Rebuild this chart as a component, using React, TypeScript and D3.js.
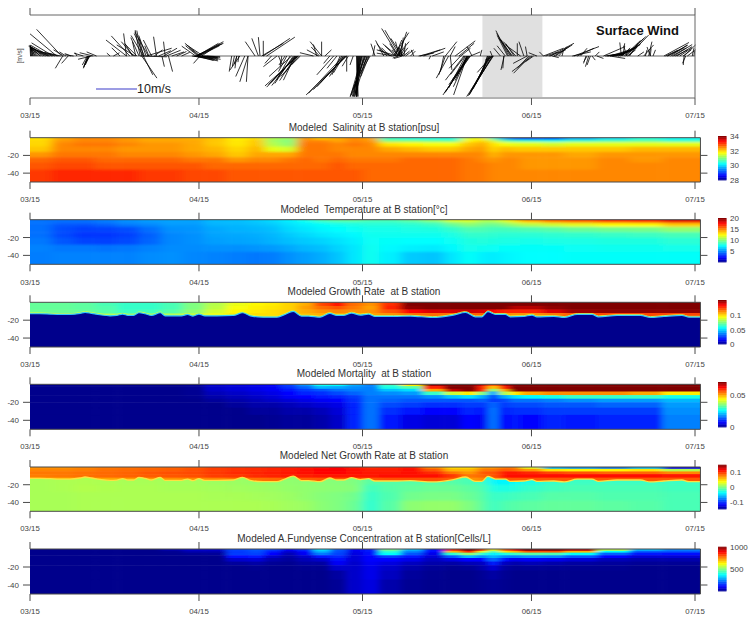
import React from "react";
import * as d3 from "d3";

const monthLabels = ["03/15", "04/15", "05/15", "06/15", "07/15"];
const monthDays = [0, 31, 61, 92, 122];
const dayEdges = [0,4,8,12,16,20,24,28,32,36,40,43,46,49,52,55,58,61,64,68,72,76,79,82,84,86,88,90,94,98,104,110,116,123];

const salinityDepths = [0,2,5,10,16,22,28,36,50];
const salinity = [
[31.9,32.3,32.5,32.5,32.4,32.3,32.3,32.2,32.1,31.8,31.9,31.3,31.2,32.4,32,32.3,32.5,32.3,30.5,30.3,30.3,30.3,31.5,31.8,30.5,29.5,28.8,28.7,28.8,29.6,30,30.4,30.2],
[32,32.4,32.5,32.5,32.4,32.3,32.3,32.3,32.1,31.9,32.1,31.2,31,32.5,32.5,32.3,32.5,32.4,31,31,30.9,30.8,31.8,32,31.5,30.8,30.6,30.5,30.4,30.6,30.7,30.8,30.6],
[32,32.5,32.6,32.6,32.5,32.4,32.4,32.3,32.1,31.9,32.1,31.3,31.1,32.6,32.6,32.5,32.6,32.5,31.9,31.8,31.7,31.7,32.1,32.3,31.9,31.7,31.6,31.6,31.5,31.6,31.6,31.6,31.6],
[32.1,32.5,32.5,32.5,32.4,32.4,32.4,32.3,32.2,32,32.2,31.6,31.5,32.6,32.6,32.5,32.5,32.5,32.3,32.2,32.1,32.1,32.3,32.4,32,32.2,32.1,32.1,32.1,32.1,32.1,32.2,32.2],
[32.4,32.6,32.6,32.6,32.5,32.5,32.5,32.4,32.3,32.1,32.3,32.3,32.3,32.6,32.6,32.6,32.5,32.5,32.5,32.5,32.5,32.5,32.5,32.5,32.2,32.4,32.4,32.4,32.4,32.3,32.4,32.4,32.4],
[32.7,32.8,32.8,32.7,32.7,32.7,32.7,32.6,32.6,32.4,32.5,32.5,32.6,32.7,32.6,32.7,32.6,32.6,32.6,32.7,32.7,32.7,32.6,32.5,32.4,32.5,32.5,32.4,32.4,32.4,32.5,32.4,32.5],
[32.8,32.9,32.9,32.8,32.8,32.8,32.8,32.8,32.7,32.7,32.7,32.7,32.7,32.7,32.7,32.8,32.7,32.7,32.7,32.7,32.7,32.7,32.6,32.6,32.5,32.5,32.5,32.4,32.4,32.4,32.5,32.5,32.5],
[33,33.1,33.1,33.1,33.1,33,33,32.9,32.9,32.8,32.8,32.8,32.8,32.8,32.8,32.8,32.8,32.7,32.7,32.7,32.7,32.7,32.6,32.6,32.5,32.5,32.5,32.5,32.5,32.5,32.5,32.5,32.5],
];

const temperatureDepths = [0,2,4,8,14,20,28,36,50];
const temperature = [
[4.6,4.5,4.5,4.8,5.2,5.5,5.6,5.6,6.1,6.2,6.5,6.8,7.3,8,9,9.4,9.5,9,9,9.5,10.5,12,12,11,11,12,13.5,15,16,16.5,17.5,17.5,18.5],
[4.6,4.4,4.4,4.7,5.1,5.3,5.5,5.5,6,6.1,6.3,6.6,7,7.5,8,8.5,8.5,8.5,8.5,8.8,9.2,10.5,11,10.5,10.5,11,12,13,14,14.5,15,15.5,16.5],
[4.5,4,3.9,4.2,4.7,5,5.4,5.4,5.9,6,6.2,6.4,6.9,7.2,7.6,7.8,8,8.2,8.2,8.3,8.6,9.5,10.2,9.8,9.5,10,10.5,11,11.5,12,12.5,12.5,13.5],
[4.5,3.8,3.5,3.6,3.8,4.5,5.2,5.3,5.7,5.9,6,6.2,6.7,7,7.3,7.5,7.7,7.9,7.9,8,8.1,8.5,9,9,8.8,8.8,8.9,9,9.2,9.5,9.7,9.8,10.3],
[4.5,3.7,3.3,3.3,3.5,4.2,5,5.2,5.6,5.7,5.8,6,6.4,6.7,7,7.2,7.4,7.8,7.8,7.8,7.8,8,8.5,8.5,8.4,8.3,8.3,8.3,8.4,8.5,8.6,8.7,8.9],
[4.7,4,3.6,3.5,3.7,4.3,5,5.2,5.5,5.6,5.7,5.9,6.2,6.4,6.6,6.9,7.2,7.7,7.6,7.5,7.5,7.7,8.1,8.2,8.1,8,8,7.9,8,8,8.1,8.1,8.3],
[4.9,4.7,4.7,4.6,4.7,4.9,5.1,5.1,5.2,5.2,5.3,5.4,5.7,6,6.2,6.6,7,7.8,7.4,7.2,7.1,7.4,7.9,7.8,7.7,7.6,7.6,7.6,7.6,7.7,7.8,7.8,7.9],
[4.8,4.9,4.9,4.9,4.9,5.1,5.2,5,4.9,4.8,4.7,4.8,5.2,5.5,5.8,6.3,7,7.8,7.2,6.4,6.3,7,7.6,7.2,7.1,7.3,7.4,7.5,7.5,7.6,7.6,7.6,7.6],
];

const growthDepths = [0,4,8,12,20];
const growth = [
[.072,.072,.071,.068,.065,.065,.068,.076,.084,.092,.096,.098,.102,.108,.124,.134,.118,.112,.128,.152,.152,.152,.152,.152,.152,.152,.152,.152,.152,.152,.152,.152,.152],
[.072,.072,.071,.069,.065,.065,.068,.076,.085,.094,.097,.099,.102,.11,.118,.122,.116,.11,.13,.15,.152,.152,.152,.152,.152,.152,.145,.145,.15,.152,.152,.152,.152],
[.073,.073,.072,.07,.066,.067,.07,.078,.088,.096,.098,.1,.103,.108,.112,.114,.112,.112,.122,.135,.14,.14,.142,.14,.135,.13,.13,.13,.14,.148,.15,.15,.15],
[.078,.078,.078,.076,.073,.075,.078,.084,.092,.098,.1,.1,.104,.106,.108,.108,.108,.11,.112,.118,.118,.118,.12,.12,.116,.114,.112,.112,.116,.122,.124,.124,.124],
];

const mortalityDepths = [0,2,5,8,12,16,20,26,34,50];
const mortality = [
[0,0,0,0,0,0,0,.0005,.004,.005,.006,.007,.012,.018,.027,.026,.02,.017,.03,.045,.068,.07,.07,.065,.055,.066,.07,.07,.07,.07,.07,.07,.07],
[0,0,0,0,0,0,0,.0005,.004,.005,.006,.007,.011,.015,.021,.02,.018,.017,.028,.032,.06,.07,.07,.06,.048,.06,.07,.07,.07,.07,.07,.07,.07],
[0,0,0,0,0,0,0,.0005,.004,.005,.006,.007,.009,.012,.014,.016,.017,.017,.022,.024,.05,.066,.07,.06,.035,.05,.07,.07,.07,.07,.07,.07,.07],
[0,0,0,0,0,0,0,.0005,.003,.004,.005,.006,.008,.01,.011,.013,.015,.017,.018,.019,.03,.04,.045,.035,.02,.038,.045,.05,.052,.052,.052,.05,.045],
[0,0,0,0,0,0,0,.0003,.002,.003,.004,.005,.007,.008,.009,.01,.012,.016,.016,.016,.018,.022,.024,.02,.013,.02,.024,.026,.028,.03,.03,.03,.028],
[0,0,0,0,0,0,0,0,.001,.002,.003,.004,.005,.006,.007,.008,.011,.016,.015,.014,.014,.014,.014,.015,.012,.013,.016,.016,.017,.018,.019,.019,.021],
[0,0,0,0,0,0,0,0,0,.001,.002,.002,.003,.004,.005,.006,.01,.016,.013,.012,.011,.011,.012,.012,.015,.012,.013,.013,.014,.014,.015,.015,.019],
[0,0,0,0,0,0,0,0,0,0,.001,.001,.002,.002,.003,.005,.01,.016,.011,.009,.008,.008,.01,.009,.016,.01,.011,.011,.012,.012,.012,.012,.018],
[0,0,0,0,0,0,0,0,0,0,0,.0005,.001,.001,.002,.004,.01,.016,.009,.006,.005,.005,.008,.007,.016,.008,.009,.008,.01,.009,.01,.01,.017],
];

const netUpperDepths = [0,2,5,8,12,20];
const netUpper = [
[.072,.072,.076,.08,.082,.084,.086,.09,.098,.102,.104,.106,.108,.11,.114,.116,.11,.104,.106,.11,.076,.05,.05,.07,.07,.08,.08,.03,-.06,-.07,-.08,-.06,-.12],
[.076,.076,.078,.082,.084,.086,.088,.092,.098,.102,.104,.106,.108,.112,.116,.118,.112,.108,.108,.112,.09,.06,.06,.08,.08,.09,.085,.07,.045,.04,.04,.045,.015],
[.08,.08,.082,.084,.086,.09,.092,.094,.1,.104,.106,.108,.11,.112,.116,.116,.112,.11,.11,.112,.104,.08,.07,.09,.09,.11,.11,.105,.095,.09,.085,.085,.075],
[.078,.08,.082,.084,.086,.088,.09,.092,.098,.1,.104,.106,.108,.108,.11,.11,.11,.11,.112,.112,.112,.1,.08,.085,.09,.112,.114,.114,.112,.112,.112,.112,.11],
[.06,.062,.064,.066,.068,.07,.072,.074,.076,.08,.082,.084,.086,.088,.09,.09,.09,.09,.092,.092,.092,.088,.07,.075,.08,.09,.09,.09,.09,.09,.09,.09,.09],
];
const netLowerDepths = [8,20,28,38,50];
const netLower = [
[.012,.013,.014,.013,.012,.012,.011,.011,.009,.008,.006,.005,.005,.004,.003,.002,0,-.012,-.012,-.012,-.012,-.012,-.016,-.02,-.04,-.04,-.036,-.03,-.022,-.02,-.02,-.02,-.02],
[.012,.013,.015,.014,.013,.013,.012,.012,.011,.01,.009,.008,.006,.005,.004,.003,.002,-.018,-.012,-.008,-.006,-.006,-.01,-.014,-.03,-.03,-.028,-.022,-.018,-.016,-.016,-.016,-.018],
[.012,.012,.013,.013,.013,.013,.013,.013,.012,.012,.011,.01,.008,.005,.002,0,-.004,-.022,-.014,-.004,-.002,-.002,-.006,-.012,-.022,-.02,-.018,-.016,-.012,-.012,-.014,-.014,-.016],
[.012,.012,.013,.013,.013,.013,.013,.013,.013,.013,.013,.012,.01,.008,.003,0,-.006,-.024,-.012,.004,.006,.006,0,-.01,-.02,-.014,-.012,-.01,-.008,-.008,-.01,-.012,-.016],
];

const fundyDepths = [0,2,4,7,10,14,18,24,34,50];
const fundy = [
[0,0,0,0,0,0,30,60,60,180,200,170,100,150,340,200,100,130,480,300,130,850,1000,850,600,800,900,1000,1000,950,560,300,240],
[0,0,0,0,0,0,8,35,35,170,190,140,70,120,300,190,90,130,420,250,120,700,850,600,450,650,700,800,800,700,380,210,200],
[0,0,0,0,0,0,3,10,12,170,180,110,40,100,240,180,80,120,380,200,90,420,520,420,360,400,430,460,450,380,210,130,120],
[0,0,0,0,0,0,0,0,0,120,130,60,25,60,130,150,70,110,170,130,70,200,300,250,300,250,240,260,250,200,110,70,70],
[0,0,0,0,0,0,0,0,0,60,70,30,15,40,60,120,70,110,110,90,50,80,110,110,220,120,90,100,90,70,40,30,30],
[0,0,0,0,0,0,0,0,0,15,25,10,5,20,20,100,60,100,80,50,30,25,40,50,140,50,30,40,30,20,15,10,10],
[0,0,0,0,0,0,0,0,0,0,5,0,0,5,5,60,60,90,60,30,12,5,10,30,70,20,8,10,8,5,5,0,0],
[0,0,0,0,0,0,0,0,0,0,0,0,0,0,0,20,60,90,50,15,5,0,0,10,25,8,0,0,0,0,0,0,0],
[0,0,0,0,0,0,0,0,0,0,0,0,0,0,0,10,60,80,30,8,2,0,0,5,10,4,0,0,0,0,0,0,0],
];

const thermoDays = [0,1.8,3.7,5.5,7.3,9.2,10.1,11.3,12.8,14.7,15.9,17,18,19,20,21.1,22.3,23.9,24.8,26.3,27.8,28.9,29.9,31,32.1,34.3,37.3,39,40.4,42.8,45.3,46.5,48.3,49.8,51.1,53.2,55,56.3,57.5,59,60.6,62.1,63.3,66.7,69.8,73.8,77.7,79.9,81.7,82.9,84,85.4,87.2,88.1,90.6,92.1,93,96.1,98,100.4,103.1,104.3,107.7,112,113.8,116.3,119.6,120.9,123];
const thermoDepths = [12.8,12.8,13.2,13.6,13.6,12.4,11.3,12.4,13.9,15.1,14.7,13.2,14.7,14.7,11.7,12.8,14.7,11.7,15.1,15.1,15.1,13.6,15.4,13.2,15.1,15.1,14.7,11.7,15.1,16.6,16.6,14.3,10.2,15.4,15.4,16.6,12.4,14.7,14.7,12.1,14.3,13.2,15.8,15.8,15.4,16.9,14.3,11.3,16.2,16.2,10.5,13.6,13.6,16.2,15.8,14.3,16.2,15.8,16.9,13.6,13.6,16.2,14.7,14.7,16.9,15.8,14.7,16.6,16.6];

// [day, east m/s, north m/s]
const windSticks: number[][] = [
[.2,-.2,2.6],[.6,-.8,2.7],[1,-1.4,2.5],[1.5,-2,2.5],[2,-3,2.4],[2.6,-3.4,2.3],[3.2,-4,2.2],[3.6,-4.6,2.6],[4.2,-5.2,3.2],[4.9,-6.5,5.4],[5.8,-6.1,6.5],[6.2,-2.5,1.5],[6.6,-1.6,1],[6,-1.8,-3],[7,-1.6,-1.8],[7.5,-1.5,.6],[8,-2,.3],
[.1,-.1,2],[.3,-.3,2.2],[.5,-.5,2.3],[.8,-.8,2.2],[1.2,-1.2,2.2],[1.8,-1.8,2],[2.3,-2.3,1.9],[2.9,-3,1.8],[3.4,-3.4,1.6],[4,-3.6,1.4],[4.6,-3.6,1.1],[5.2,-3.4,.9],[5.6,-3,.7],
[8.6,-.4,.8],[9.8,-2.3,.7],[10.7,-1.2,-3],[10.5,-1.2,-2.2],[11,-1.2,-1.8],[11.6,-3.3,.8],[12.2,-2.4,1],[11.3,-3.3,-.8],[10.6,-1,-2.6],[10.8,-1.3,-2.8],[10.9,-1,-2.2],
[14.7,-.8,.7],[15.3,1.5,.8],[16.5,-2,2],[17.7,-5,3.9],[18.3,-4.5,4.9],[17.7,-.7,5.5],[19.3,-4.5,2.7],[20.2,-1.2,6.3],[20.5,-1.2,6.2],[20.8,-1,4.3],[21.7,-3.3,5.9],[22.3,-2,3.9],[23.2,-.7,4.7],[24.8,-.4,3.5],[24.5,3.3,1.9],[21.4,6.1,1.9],[20.2,6.5,-.2],[20.5,3.7,-5.4],[20.8,2.3,-4.6],[25.4,1,-3.8],[24.2,.6,-2.6],[26.9,2.4,1.1],[27.8,2,.9],
[19,-3,3.5],[19.6,-3,3],[20,-2,4.5],[20.8,-3,5],[21,-2.5,5.5],[21.3,-1.8,5],[18.8,-1.8,3],[19.4,-.8,3.5],[21.8,-1,2.5],[22.8,2,1.5],[23.6,3,1.3],[25,3.5,1.4],[26,3,1],
[31.2,-3.7,3.1],[31.8,-4.1,2.7],[30.6,6.5,3.5],[30.3,6.9,3.1],[30.6,5.3,3.1],[31.5,2.8,1.9],[30.6,4.1,-1.1],[30.3,6.1,-.3],[31.2,-1.6,-1.8],[32.4,3.3,-.2],[29.7,5,-.6],[30,6,-1.2],[31.2,5,-.8],
[30.8,-3,2.5],[31,-2.4,2],[30.4,-3.4,2.4],[30.9,4,-.9],[31.3,4.2,-.9],[31.5,4,-.5],[31.8,3.5,-.4],[32,2.5,-.2],[30.7,5.5,2.9],[30.9,5.8,3],[31,5,2.5],
[37,-.6,-3.8],[37.9,-.4,-3],[38.5,-2.4,-3.4],[40,-2,-6.3],[40,-.4,-6.3],[39.4,-2.2,-5],[41.3,-2.4,3.5],[41.9,-1.6,4.3],[42.2,-.4,4.6],[42.8,0,3.7],[43.4,6.9,4.6],[42.8,6.5,4.3],[42.5,5.3,3.1],[37.5,-.5,-2.5],[38,-.8,-2],[38.3,-.2,-1.5],
[49.2,-8.1,-7.3],[48.9,-7.3,-7.6],[48.3,-4.5,-6.7],[47.7,-3.3,-5.9],[48.6,-2.8,-5.9],[47.1,-2,-3.8],[45.3,-3.3,-2.6],[44.3,-1.6,-1.8],[46.2,-.4,-2.6],[48,-5.5,-5],[46.8,-1.5,-2.2],[45.6,.8,-2],
[49,-7,-7],[48.7,-6,-6.5],[48.5,-5.5,-7.2],[48.8,-4,-6],[49.4,-4.5,-5],[49.1,-3,-4],[49.6,-2,-2],
[53.5,-2.8,3.5],[53.5,0,3.5],[52.9,-2.8,1.5],[52,-3.3,.8],[54.1,1.6,1.5],[52.6,-.8,2.8],[53.1,-2,2.2],
[58.1,-9.9,-9.5],[57.5,-8.5,-9.1],[55.7,-4.1,-4.6],[56.3,-2.4,-3],[56.9,-2,-4.6],[57.5,-2.4,-4.1],[58.1,0,-3.8],[59.3,-.8,-2.2],[57.8,-6,-6.5],[55,-1.5,-1.8],[58,-8,-8.2],[57.9,-7,-7.5],[57.2,-3,-5],[58.4,-1.5,-2.5],
[61.5,-3.7,-9.9],[60.9,-2.8,-9.9],[60.6,-1.6,-9.9],[60.2,-.4,-9.9],[59.9,.4,-9.9],[61.8,-2.8,-9.1],[62.4,-2.4,-4.2],[62.1,-1.2,-2.2],[61.2,-2.2,-9.9],[60.7,-1,-9.9],[60.4,-.8,-9.5],[62.9,.5,2.6],[63.3,-1,3],
[61,-2.5,-9.9],[60.8,-2,-9.9],[60.5,-1.2,-9.9],[60.3,-.6,-9.9],[60,0,-9.9],[60.1,-.2,-9.9],[61.4,-3.2,-9.5],[61.6,-3,-8],[61.9,-2.6,-6.5],[62.2,-2,-5],
[67.6,-4.1,6.7],[67.9,-3.7,6.3],[67.6,2,5.9],[67.3,-4.9,1.5],[66.7,-4.1,.7],[68.3,-2.8,4.3],[68.6,.4,3.1],[67,1.6,3.9],[66.7,3.7,5.7],[68.9,2,1.5],[65.5,-2.5,3],[64.9,-2,3.8],[67.3,3,3.5],[67,-3,3],[68.1,.5,4.5],[69.8,1.2,1.2],[70.4,-.6,1.5],[68.3,-2,-.6],[67.6,-1.4,-.5],
[67.4,-3,2.5],[67.5,-2,3],[67.8,-1,3.5],[67.7,1,3.5],[68,-.5,2],[68.2,1.5,2],[68.4,-1,2.2],[68,1,2],[67.9,-2,1.5],[68.5,1.5,1.2],[66.3,-3,1.5],[66,-2,2],
[72.2,5.3,1.9],[71.6,4.9,1.5],[71.3,3.7,.7],[73.5,-.4,-.8],[76.2,2.8,3.5],[77.1,1.2,2.3],[73.8,2.8,1],
[76.8,-3,-5.4],[76.2,-1.6,-4.6],[75.9,-.8,-3.8],[77.1,.4,-3.4],[80.8,-6.7,-9.5],[80.5,-5.7,-8.8],[80.2,-3.3,-9.5],[79.9,-4.1,-7.8],[79.6,-4.5,-5.9],[80.2,-2.4,-4.6],[79,-2.8,-3],[78,4.9,3.7],[78.7,3.7,3.1],[79,2.4,1.9],[80.8,2.4,1],[81.1,-1.2,2.3],
[80.6,-5,-7],[80.4,-4,-6],[80.3,-3.5,-7.5],[80.7,-6.2,-9],[80.1,-2.8,-6],[79.8,-3.5,-4.5],
[85,-6.5,-9.9],[84.4,-4.9,-9.1],[84.2,-3.3,-7],[83.9,-1,-3.8],[85,-2,-1],[84.8,-5.6,-9.5],[84.9,-6,-9.7],[84.6,-5,-8.5],[84.3,-4,-8],[84,-2,-5],[84.7,-3.5,-4],
[87.8,-3.1,6.2],[88.1,-3.3,5.5],[88.5,-3.3,4.3],[89.1,-3,3.5],[89.4,0,3.1],[90.6,-1.2,3.5],[91.2,-.4,2.3],[90,-3.7,2.7],[86.3,-1.6,1.9],[82.6,.4,1.5],[87,-.8,-3.4],[86.9,-.2,-3],[92.1,-4.9,-3.8],[91.8,-4.1,-4.2],[91.5,-2.8,-3],[91.2,-3.4,-1.8],[92.4,-2,-1.4],[93,-2,.8],[94.2,-1,1],[87.2,-2,2.5],[84.8,-.5,1.2],[87.6,-2.5,5],[88.3,-2.5,4],[88.8,-2,3],
[94.2,4.9,1.9],[95.5,5.7,3.1],[96.1,4.5,2.7],[95.2,4.1,1.5],[97,2,2.3],[97.6,.4,1.5],[95.8,1.6,-.4],[96.4,3.5,2.4],[94.6,3,1],
[99.8,6.1,2.3],[100.4,4.1,1.9],[101,1.6,1.9],[99.5,4.5,1],[102.5,-.8,-2.6],[102.8,-.8,-2.2],[102.2,-.8,-1.4],[103.1,.8,-1],[104,1.6,-.6],[102,-.6,-1.8],[103.7,1,1],
[105.2,5.3,2.3],[106.4,4.9,1.5],[107.6,5.7,2.7],[108.5,-.4,3.3],[108.8,.4,3.1],[109.8,4.9,5.1],[109.2,4.5,4.3],[110,2,3.1],[106.4,3.7,-.6],[105.8,4.5,.5],[107,5,1.6],[109.5,-.8,2.5],[107.9,4.5,2],
[108,4.5,2.2],[108.3,5,3],[109,4,3.8],[109.4,4.8,4.8],[106.8,3.5,1],[107.3,4,1.2],[106,3,.6],[105.5,2.5,.4],[109.6,2,1.5],[108.6,2,2],
[113.5,.8,3.5],[112.6,2.4,2.7],[112.9,.4,1.5],[113.8,.2,1.9],[114.3,.6,1.5],[111.5,1.5,1],[113.8,-.8,2.2],
[116.3,6.1,3.3],[117.5,4.1,2.7],[118.7,3.7,2.3],[120,2.8,2.7],[120.6,2,1.5],[121.5,.4,1.9],[120,-.2,-2.2],[120.3,-.8,-1.8],[116.9,5,2.6],[118.1,4.5,2.8],[121.8,.2,1.2],
[117,4,2],[117.8,3.5,2],[118.4,3,1.5],[119.2,3,2],[119.8,2,1.5],[116.6,3,1.4],
];
const shadedDays = [83, 94];

const jetStops = [0, 0.11, 0.375, 0.625, 0.89, 1];
const jetColors = ["#00008c", "#0000ff", "#00ffff", "#ffff00", "#ff0000", "#800000"];
const jet = d3.scaleLinear<string>().domain(jetStops).range(jetColors).clamp(true);

const FONT = "'Liberation Sans', Arial, sans-serif";
const GREY = "#4a4a4a";
const x = d3.scaleLinear().domain([0, 122]).range([30, 695]);
const xRight = x(123);

type Cfg = {
  title: string; top: number; bottom: number; labelY: number; titleY: number;
  domain: [number, number]; barTop: number; barBottom: number; barTicks: number[];
};

function Field({ id, values, depths, color, y }: any) {
  const cells: any[] = [];
  values.forEach((row: number[], r: number) => {
    row.forEach((v: number, c: number) => {
      const x0 = c === 0 ? x(dayEdges[0]) - 40 : x(dayEdges[c]);
      const x1 = c === row.length - 1 ? xRight + 40 : x(dayEdges[c + 1]);
      const y0 = r === 0 ? y(depths[0]) - 12 : y(depths[r]);
      const y1 = r === values.length - 1 ? y(depths[r + 1]) + 12 : y(depths[r + 1]);
      cells.push(<rect key={r + "-" + c} x={x0} y={y0} width={x1 - x0 + 0.5} height={y1 - y0 + 0.5} fill={color(v)} />);
    });
  });
  return <g filter={`url(#${id})`}>{cells}</g>;
}

function Panel({ cfg, children, id }: { cfg: Cfg; children: (y: any) => any; id: string }) {
  const y = d3.scaleLinear().domain([0, 50]).range([cfg.top, cfg.bottom]);
  const bar = d3.scaleLinear().domain(cfg.domain).range([cfg.barBottom, cfg.barTop]);
  const steps = d3.range(0, 64);
  const h = (cfg.barBottom - cfg.barTop) / 64;
  return (
    <g>
      <text x={364} y={cfg.titleY} textAnchor="middle" fontSize={10} fill="#333" fontFamily={FONT} xmlSpace="preserve">{cfg.title}</text>
      <clipPath id={id + "c"}><rect x={30} y={cfg.top} width={xRight - 30} height={cfg.bottom - cfg.top} /></clipPath>
      <g clipPath={`url(#${id}c)`}>{children(y)}</g>
      <line x1={30} x2={xRight} y1={cfg.top} y2={cfg.top} stroke={GREY} />
      <line x1={30} x2={xRight} y1={cfg.bottom} y2={cfg.bottom} stroke={GREY} />
      <line x1={xRight} x2={xRight} y1={cfg.top} y2={cfg.bottom} stroke={GREY} />
      {monthDays.map((d, i) => (
        <g key={i}>
          <line x1={x(d)} x2={x(d)} y1={cfg.top - 7} y2={cfg.top} stroke={GREY} />
          <line x1={x(d)} x2={x(d)} y1={cfg.bottom} y2={cfg.bottom + 7} stroke={GREY} />
          <text x={x(d)} y={cfg.labelY} textAnchor="middle" fontSize={7.8} fill="#444" fontFamily={FONT}>{monthLabels[i]}</text>
        </g>
      ))}
      {[20, 40].map((d) => (
        <g key={d}>
          <line x1={23} x2={30} y1={y(d)} y2={y(d)} stroke={GREY} />
          <line x1={xRight} x2={xRight + 7} y1={y(d)} y2={y(d)} stroke={GREY} />
          <text x={19} y={y(d) + 3} textAnchor="end" fontSize={8} fill="#444" fontFamily={FONT}>{"-" + d}</text>
        </g>
      ))}
      {steps.map((s) => {
        const t = (s + 0.5) / 64;
        return <rect key={s} x={718} width={8.5} y={cfg.barBottom - (s + 1) * h} height={h + 0.4} fill={jet(t)} />;
      })}
      {cfg.barTicks.map((v, i) => (
        <text key={i} x={730} y={bar(v) + 3} fontSize={8} fill="#444" fontFamily={FONT}>{String(v)}</text>
      ))}
    </g>
  );
}

export default function App() {
  const speed = d3.scaleLinear().domain([0, 10]).range([0, 41]);
  const windY = 56;
  const mk = (domain: [number, number]) => {
    const s = d3.scaleLinear().domain(domain).range([0, 1]);
    return (v: number) => jet(s(v));
  };
  const salCfg: Cfg = { title: "Modeled  Salinity at B station[psu]", top: 137.7, bottom: 182, labelY: 202, titleY: 131, domain: [28, 34], barTop: 136, barBottom: 180, barTicks: [34, 32, 30, 28] };
  const tmpCfg: Cfg = { title: "Modeled  Temperature at B station[°c]", top: 219.7, bottom: 264.3, labelY: 285, titleY: 213, domain: [0, 20], barTop: 218, barBottom: 262, barTicks: [20, 15, 10, 5] };
  const groCfg: Cfg = { title: "Modeled Growth Rate  at B station", top: 302.3, bottom: 347, labelY: 367, titleY: 295, domain: [0, 0.152], barTop: 300, barBottom: 344, barTicks: [0.1, 0.05, 0] };
  const morCfg: Cfg = { title: "Modeled Mortality  at B station", top: 384.3, bottom: 429.3, labelY: 449, titleY: 377, domain: [0, 0.07], barTop: 382, barBottom: 427, barTicks: [0.05, 0] };
  const netCfg: Cfg = { title: "Modeled Net Growth Rate at B station", top: 467, bottom: 511.3, labelY: 531, titleY: 459, domain: [-0.15, 0.15], barTop: 464.7, barBottom: 509, barTicks: [0.1, 0, -0.1] };
  const funCfg: Cfg = { title: "Modeled A.Fundyense Concentration at B station[Cells/L]", top: 549, bottom: 594, labelY: 614, titleY: 542, domain: [0, 1000], barTop: 546.7, barBottom: 591, barTicks: [1000, 500] };

  const thermoLine = (y: any) => d3.line<number>().curve(d3.curveMonotoneX).x((_, i) => x(thermoDays[i])).y((d) => y(d))(thermoDepths) as string;
  const thermoArea = (y: any) => d3.area<number>().curve(d3.curveMonotoneX).x((_, i) => x(thermoDays[i])).y0((d) => y(d)).y1(y(50) + 3)(thermoDepths) as string;

  return (
    <svg width={754} height={622} viewBox="0 0 754 622" style={{ display: "block", position: "absolute", left: 0, top: 0 }}>
      <defs>
        <filter id="soft" x="-5%" y="-30%" width="110%" height="160%"><feGaussianBlur stdDeviation="5.5 1.1" /></filter>
        <filter id="soft2" x="-5%" y="-30%" width="110%" height="160%"><feGaussianBlur stdDeviation="4 0.5" /></filter>
        <filter id="soft3" x="-5%" y="-30%" width="110%" height="160%"><feGaussianBlur stdDeviation="3.5 0.6" /></filter>
        <filter id="edge" x="-2%" y="-30%" width="104%" height="160%"><feGaussianBlur stdDeviation="0.4" /></filter>
        <filter id="ink" x="-2%" y="-5%" width="104%" height="110%"><feGaussianBlur stdDeviation="0.3" /></filter>
      </defs>
      <rect x={0} y={0} width={754} height={622} fill="#fff" />

      {/* wind */}
      <rect x={x(shadedDays[0])} y={15} width={x(shadedDays[1]) - x(shadedDays[0])} height={82} fill="#e0e0e0" />
      <line x1={30} x2={695} y1={15} y2={15} stroke="#666" />
      <line x1={30} x2={695} y1={98} y2={98} stroke="#666" />
      <line x1={30} x2={695} y1={windY} y2={windY} stroke="#666" strokeWidth={1.2} />
      <g filter="url(#ink)">
        {windSticks.map((s, i) => (
          <line key={i} x1={x(s[0])} y1={windY} x2={x(s[0]) + speed(s[1])} y2={windY - speed(s[2])} stroke="#000" strokeWidth={0.8} />
        ))}
      </g>
      {monthDays.map((d, i) => (
        <g key={i}>
          <line x1={x(d)} x2={x(d)} y1={8} y2={15} stroke="#555" />
          <line x1={x(d)} x2={x(d)} y1={98} y2={105} stroke="#555" />
          <text x={x(d)} y={118} textAnchor="middle" fontSize={7.8} fill="#444" fontFamily={FONT}>{monthLabels[i]}</text>
        </g>
      ))}
      <line x1={695} x2={695} y1={15} y2={98} stroke="#666" />
      <text transform="translate(22,56) rotate(-90)" textAnchor="middle" fontSize={7} fill="#444" fontFamily={FONT}>[m/s]</text>
      <line x1={96} x2={137} y1={89} y2={89} stroke="#3a3ac8" />
      <text x={137} y={93} fontSize={12.5} fill="#222" fontFamily={FONT}>10m/s</text>
      <text x={596} y={35} fontSize={13} fontWeight="bold" fill="#111" fontFamily={FONT}>Surface Wind</text>

      <Panel id="sal" cfg={salCfg}>{(y) => <Field id="soft" values={salinity} depths={salinityDepths} color={mk(salCfg.domain)} y={y} />}</Panel>
      <Panel id="tmp" cfg={tmpCfg}>{(y) => <Field id="soft" values={temperature} depths={temperatureDepths} color={mk(tmpCfg.domain)} y={y} />}</Panel>
      <Panel id="gro" cfg={groCfg}>{(y) => (
        <g>
          <Field id="soft2" values={growth} depths={growthDepths} color={mk(groCfg.domain)} y={y} />
          <path d={thermoArea(y)} fill={jet(0)} />
          <path d={thermoLine(y)} fill="none" stroke="#d8ff40" strokeWidth={1} transform="translate(0,-0.8)" filter="url(#edge)" />
          <path d={thermoLine(y)} fill="none" stroke="#30c8ff" strokeWidth={1.2} filter="url(#edge)" />
        </g>
      )}</Panel>
      <Panel id="mor" cfg={morCfg}>{(y) => <Field id="soft3" values={mortality} depths={mortalityDepths} color={mk(morCfg.domain)} y={y} />}</Panel>
      <Panel id="net" cfg={netCfg}>{(y) => (
        <g>
          <Field id="soft2" values={netUpper} depths={netUpperDepths} color={mk(netCfg.domain)} y={y} />
          <clipPath id="netLow"><path d={thermoArea(y)} /></clipPath>
          <g clipPath="url(#netLow)"><Field id="soft" values={netLower} depths={netLowerDepths} color={mk(netCfg.domain)} y={y} /></g>
          <path d={thermoLine(y)} fill="none" stroke="#ffe040" strokeWidth={1.3} filter="url(#edge)" />
        </g>
      )}</Panel>
      <Panel id="fun" cfg={funCfg}>{(y) => <Field id="soft3" values={fundy} depths={fundyDepths} color={mk(funCfg.domain)} y={y} />}</Panel>
    </svg>
  );
}
